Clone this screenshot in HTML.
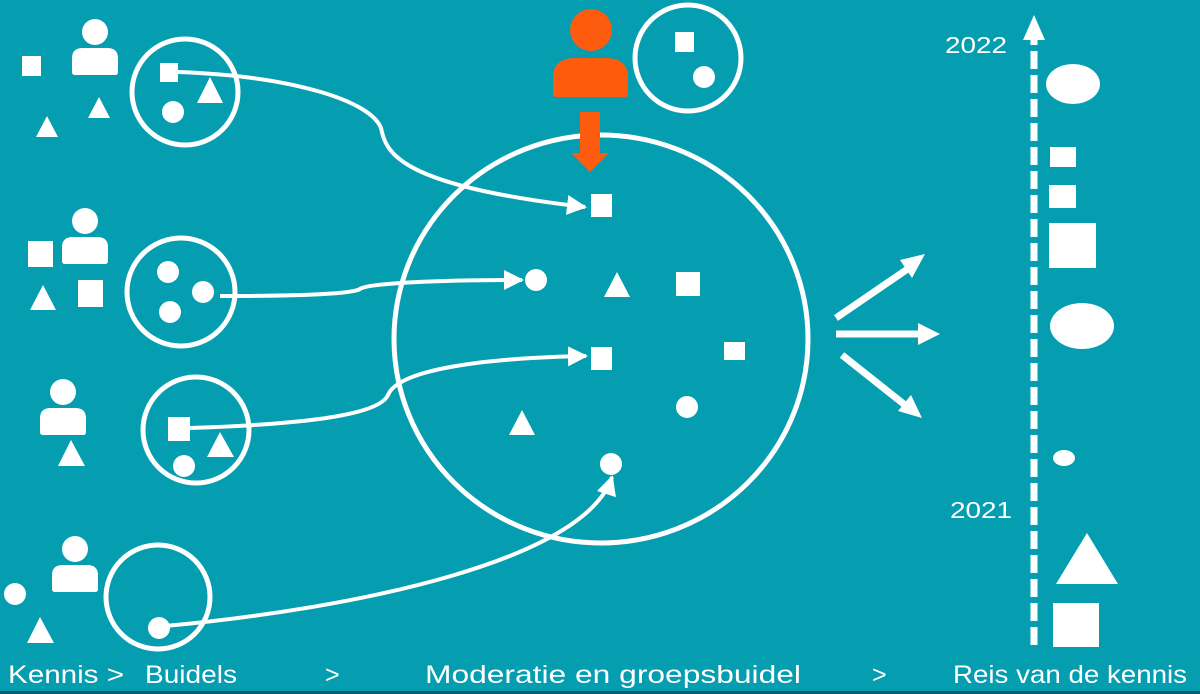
<!DOCTYPE html>
<html><head><meta charset="utf-8"><style>
html,body{margin:0;padding:0;background:#059db0;}
svg{display:block;}
text{font-family:"Liberation Sans",sans-serif;fill:#fff;}
</style></head><body>
<svg width="1200" height="694" viewBox="0 0 1200 694" xmlns="http://www.w3.org/2000/svg">
<defs>
<g id="person"><circle cx="0" cy="-16" r="13"/><path d="M-23,24 L-23,10 Q-23,0 -12,0 L12,0 Q23,0 23,10 L23,24 Q23,27 20,27 L-20,27 Q-23,27 -23,24 Z"/></g>
<marker id="ah" viewBox="0 0 10 10" refX="9" refY="5" markerWidth="5" markerHeight="5" orient="auto" markerUnits="strokeWidth"><path d="M0,0 L10,5 L0,10 Z" fill="#fff"/></marker>
</defs>
<rect width="1200" height="694" fill="#059db0"/>
<rect x="0" y="691" width="1200" height="3" fill="#0a5d6a"/>
<g fill="#fff">
<use href="#person" x="95" y="48"/>
<rect x="22" y="56" width="19" height="20"/>
<polygon points="99,97 110,118 88,118"/>
<polygon points="47,116 58,137 36,137"/>
<rect x="160" y="63" width="18" height="19"/>
<polygon points="210,77 223,103 197,103"/>
<circle cx="173" cy="112" r="11"/>
<use href="#person" x="85" y="237"/>
<rect x="28" y="241" width="25" height="26"/>
<polygon points="43,285 56,310 30,310"/>
<rect x="78" y="280" width="25" height="27"/>
<circle cx="168" cy="272" r="11"/>
<circle cx="203" cy="292" r="11"/>
<circle cx="170" cy="312" r="11"/>
<use href="#person" x="63" y="408"/>
<polygon points="71,440 85,466 58,466"/>
<rect x="168" y="417" width="22" height="24"/>
<polygon points="220,432 234,457 207,457"/>
<circle cx="184" cy="466" r="11"/>
<use href="#person" x="75" y="565"/>
<circle cx="15" cy="594" r="11"/>
<polygon points="40,617 54,643 27,643"/>
<circle cx="159" cy="628" r="11"/>
<rect x="675" y="32" width="19" height="20"/>
<circle cx="704" cy="77" r="11"/>
<rect x="591" y="194" width="21" height="23"/>
<circle cx="536" cy="280" r="11"/>
<polygon points="617,272 630,297 604,297"/>
<rect x="676" y="272" width="24" height="24"/>
<rect x="724" y="342" width="21" height="18"/>
<rect x="591" y="347" width="21" height="23"/>
<polygon points="522,410 535,435 509,435"/>
<circle cx="687" cy="407" r="11"/>
<circle cx="611" cy="464" r="11"/>
<ellipse cx="1073" cy="84" rx="27" ry="20"/>
<rect x="1050" y="147" width="26" height="20"/>
<rect x="1049" y="185" width="27" height="23"/>
<rect x="1049" y="223" width="47" height="45"/>
<ellipse cx="1082" cy="326" rx="32" ry="23"/>
<ellipse cx="1064" cy="458" rx="11" ry="8"/>
<polygon points="1087,533 1118,584 1056,584"/>
<rect x="1053" y="603" width="46" height="44"/>
</g>
<g fill="none" stroke="#fff" stroke-width="5">
<circle cx="185" cy="92" r="53"/>
<circle cx="181" cy="292" r="54"/>
<circle cx="196" cy="430" r="53"/>
<circle cx="158" cy="597" r="52"/>
<circle cx="688" cy="58" r="53"/>
<ellipse cx="601" cy="339" rx="207" ry="204"/>
</g>
<g fill="none" stroke="#fff" stroke-width="4" marker-end="url(#ah)">
<path d="M178,72 C290,76 370,100 381,128 C386,150 392,185 585,207"/>
<path d="M220,296 C300,296 352,294 360,289 C368,283 440,280 522,280"/>
<path d="M190,428 C280,425 378,418 388,395 C398,370 480,358 586,356"/>
<path d="M165,626 C360,608 585,560 612,477"/>
</g>
<g fill="none" stroke="#fff" stroke-width="7">
<path d="M836,318 L912,266"/>
<path d="M836,334 L920,334"/>
<path d="M842,355 L905,405"/>
</g>
<g fill="#fff">
<polygon points="925,254 900,260 912,278"/>
<polygon points="940,334 918,323 918,345"/>
<polygon points="922,418 911,395 898,411"/>
</g>
<g fill="#fd5b0e">
<circle cx="591" cy="30" r="21"/>
<path d="M553,94 L553,78 Q553,58 575,58 L606,58 Q628,58 628,78 L628,94 Q628,97 625,97 L556,97 Q553,97 553,94 Z"/>
<rect x="580" y="112" width="20" height="42"/>
<polygon points="571,153 609,153 590,172"/>
</g>
<line x1="1034" y1="645" x2="1034" y2="38" stroke="#fff" stroke-width="7" stroke-dasharray="18,6"/>
<polygon points="1034,15 1023,40 1045,40" fill="#fff"/>
<text x="945" y="53" font-size="23" textLength="62" lengthAdjust="spacingAndGlyphs">2022</text>
<text x="950" y="518" font-size="23" textLength="62" lengthAdjust="spacingAndGlyphs">2021</text>
<text x="8" y="683" font-size="25" textLength="116" lengthAdjust="spacingAndGlyphs">Kennis &gt;</text>
<text x="145" y="683" font-size="25" textLength="92" lengthAdjust="spacingAndGlyphs">Buidels</text>
<text x="325" y="683" font-size="25">&gt;</text>
<text x="425" y="683" font-size="25" textLength="376" lengthAdjust="spacingAndGlyphs">Moderatie en groepsbuidel</text>
<text x="872" y="683" font-size="25">&gt;</text>
<text x="953" y="683" font-size="25" textLength="234" lengthAdjust="spacingAndGlyphs">Reis van de kennis</text>
</svg>
</body></html>
